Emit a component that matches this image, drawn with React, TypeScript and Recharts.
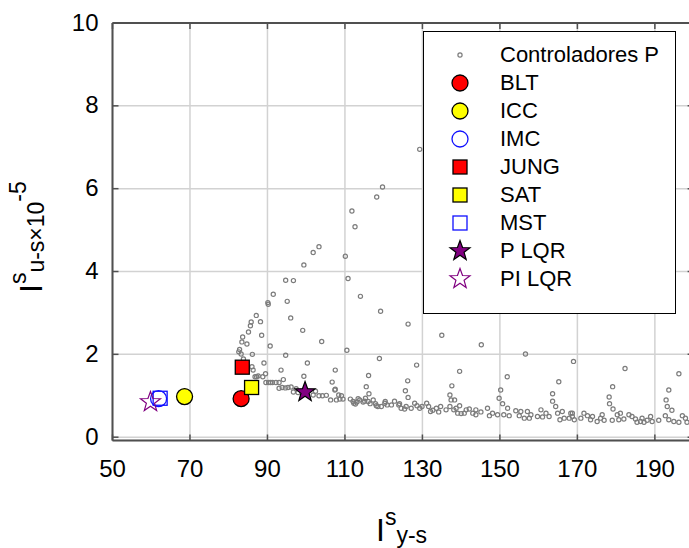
import React from "react";
import { CartesianGrid, Label, ReferenceLine, Scatter, ScatterChart, XAxis, YAxis } from "recharts";

// nuvem de controladores P (Isy-s, Isu-s x1e-5)
const controladoresP: [number, number][] = [
  [129.3, 6.95], [119.7, 6.04], [118.2, 5.8], [111.8, 5.46], [112.6, 5.08], [110.1, 4.37], [110.8, 3.83],
  [114.0, 3.4], [119.2, 3.04], [126.3, 2.73], [135.0, 2.46], [145.2, 2.23], [156.6, 2.01], [169.0, 1.83],
  [182.3, 1.66], [196.2, 1.53], [110.5, 2.1], [118.9, 1.9], [128.5, 1.74], [139.6, 1.59], [151.9, 1.46],
  [165.2, 1.34], [179.1, 1.22], [193.6, 1.14],
  [101.8, 4.46], [103.3, 4.6], [99.4, 4.16], [94.7, 3.79], [96.7, 3.78], [91.5, 3.45], [90.1, 3.25],
  [90.2, 3.21], [95.1, 3.28], [96.0, 2.88], [99.1, 2.58], [104.0, 2.31],
  [87.1, 2.94], [88.2, 2.79], [85.8, 2.78], [85.6, 2.69], [85.1, 2.54], [88.5, 2.46], [83.6, 2.42],
  [83.4, 2.3], [84.7, 2.25], [90.7, 2.2], [82.8, 2.12], [82.6, 2.06], [83.2, 2.01], [86.1, 2.0],
  [94.7, 1.98], [83.8, 1.89], [100.3, 1.79], [89.1, 1.79], [86.0, 1.7], [86.3, 1.62], [93.5, 1.62],
  [107.5, 1.62], [99.4, 1.47], [116.1, 1.49], [89.5, 1.53], [86.8, 1.46], [87.2, 1.46], [87.6, 1.48],
  [88.8, 1.46], [94.1, 1.39], [93.0, 1.32], [92.2, 1.32], [91.3, 1.32], [90.8, 1.32], [90.3, 1.32],
  [89.6, 1.32], [106.7, 1.33], [115.5, 1.22], [107.5, 1.16],
  [93.0, 1.18], [93.8, 1.2], [94.6, 1.19], [95.3, 1.2], [96.1, 1.21], [97.4, 1.17], [96.7, 1.09],
  [97.9, 1.08], [101.8, 1.02], [102.4, 1.11], [103.3, 1.0], [104.2, 1.0], [105.2, 1.01], [106.3, 0.9],
  [107.8, 0.9], [109.5, 0.92], [109.1, 1.0], [107.4, 1.14], [108.4, 1.02], [108.7, 0.92], [111.4, 0.92],
  [112.3, 0.82], [113.1, 0.85], [113.8, 0.9], [115.1, 0.87], [116.2, 1.05], [115.3, 0.94], [117.3, 0.9],
  [117.9, 0.81], [119.4, 0.74], [120.3, 0.82], [122.8, 0.87], [124.1, 0.81],
  [125.6, 1.12], [126.2, 1.36], [126.3, 0.96], [137.6, 1.24], [137.1, 1.02], [137.4, 0.9],
  [112.1, 0.86], [112.7, 0.8], [113.4, 0.93], [114.7, 0.85], [116.0, 0.86], [116.5, 0.81], [118.1, 0.76],
  [118.5, 0.74], [120.4, 0.86], [120.9, 0.78], [122.0, 0.78], [123.9, 0.78], [124.5, 0.7], [125.4, 0.68],
  [125.8, 0.74], [127.1, 0.7], [128.0, 0.82], [128.6, 0.76], [129.3, 0.7], [129.9, 0.74], [131.1, 0.82],
  [131.6, 0.74], [132.1, 0.62], [132.7, 0.65], [133.6, 0.7], [134.2, 0.61], [134.7, 0.74], [136.1, 0.66],
  [137.1, 0.74], [138.1, 0.66],
  [150.2, 1.14], [149.8, 0.94], [163.6, 1.05], [163.6, 0.87], [164.4, 0.74], [150.7, 0.81], [138.3, 0.9],
  [138.7, 0.7], [139.6, 0.76], [139.1, 0.58], [140.0, 0.57], [140.8, 0.58], [141.3, 0.66], [142.1, 0.68],
  [143.0, 0.58], [143.8, 0.66], [143.8, 0.54], [145.1, 0.61], [146.8, 0.7], [147.3, 0.52], [148.1, 0.58],
  [149.4, 0.54], [151.0, 0.54], [152.0, 0.7], [152.4, 0.52], [154.1, 0.64], [155.0, 0.52], [155.4, 0.62],
  [156.3, 0.46], [157.1, 0.62], [157.6, 0.46], [158.0, 0.54], [159.7, 0.5], [160.6, 0.66], [161.0, 0.49],
  [161.9, 0.58], [162.7, 0.5], [164.9, 0.58], [165.5, 0.42], [166.1, 0.62], [166.6, 0.46], [167.9, 0.46],
  [168.7, 0.58], [169.2, 0.42],
  [178.2, 0.97], [178.3, 0.81], [179.2, 0.68], [192.9, 0.9], [193.2, 0.74], [194.4, 0.65],
  [168.3, 0.58], [168.7, 0.5], [170.9, 0.46], [171.7, 0.58], [172.6, 0.52], [173.4, 0.42], [173.9, 0.5],
  [175.1, 0.38], [176.0, 0.46], [176.4, 0.54], [176.9, 0.41], [179.0, 0.41], [180.3, 0.54], [180.7, 0.42],
  [181.1, 0.58], [182.0, 0.44], [183.3, 0.54], [184.1, 0.5], [185.0, 0.44], [185.4, 0.36], [186.3, 0.38],
  [186.7, 0.46], [187.2, 0.36], [188.0, 0.41], [188.9, 0.5], [189.3, 0.38], [191.0, 0.41], [192.7, 0.52],
  [193.6, 0.42], [194.9, 0.38], [196.2, 0.36], [197.1, 0.52], [197.9, 0.46], [198.3, 0.36],
];

// métodos de sintonia
const metodos = ["BLT", "ICC", "IMC", "JUNG", "SAT", "MST", "P LQR", "PI LQR"];
const metodosX = [83.2, 68.6, 61.9, 83.5, 85.9, 62.3, 99.7, 59.8];
const metodosY = [0.93, 0.98, 0.93, 1.69, 1.2, 0.94, 1.09, 0.85];

const xTicks = [50, 70, 90, 110, 130, 150, 170, 190];
const yTicks = [0, 2, 4, 6, 8, 10];

const CHART_W = 700;
const CHART_H = 548;
const PLOT_LEFT = 112.5;
const PLOT_TOP = 23;
const PLOT_BOTTOM = 440.5;
const PLOT_RIGHT = 693.6;
const AXIS = "#505050";
const FONT = '"Liberation Sans", Arial, sans-serif';

type Kind = "dot" | "circle" | "square" | "star";
const estilos: Record<string, { kind: Kind; fill: string; stroke: string }> = {
  "Controladores P": { kind: "dot", fill: "none", stroke: "#7c7c7c" },
  BLT: { kind: "circle", fill: "#ff0000", stroke: "#000" },
  ICC: { kind: "circle", fill: "#ffff00", stroke: "#000" },
  IMC: { kind: "circle", fill: "none", stroke: "#1010ff" },
  JUNG: { kind: "square", fill: "#ff0000", stroke: "#000" },
  SAT: { kind: "square", fill: "#ffff00", stroke: "#000" },
  MST: { kind: "square", fill: "none", stroke: "#1010ff" },
  "P LQR": { kind: "star", fill: "#800080", stroke: "#000" },
  "PI LQR": { kind: "star", fill: "none", stroke: "#800080" },
};

function starPath(cx: number, cy: number, R: number, r: number) {
  let d = "";
  for (let i = 0; i < 10; i++) {
    const a = -Math.PI / 2 + (i * Math.PI) / 5;
    const rad = i % 2 === 0 ? R : r;
    d += `${i === 0 ? "M" : "L"}${(cx + rad * Math.cos(a)).toFixed(2)},${(cy + rad * Math.sin(a)).toFixed(2)}`;
  }
  return d + "Z";
}

function glyph(name: string, cx: number, cy: number) {
  const s = estilos[name];
  if (s.kind === "dot") return <circle cx={cx} cy={cy} r={2.1} fill="none" stroke={s.stroke} strokeWidth={1.2} />;
  if (s.kind === "circle") return <circle cx={cx} cy={cy} r={8} fill={s.fill} stroke={s.stroke} strokeWidth={1.3} />;
  if (s.kind === "square")
    return <rect x={cx - 7} y={cy - 7} width={14} height={14} fill={s.fill} stroke={s.stroke} strokeWidth={1.3} />;
  return <path d={starPath(cx, cy, 10.5, 4.3)} fill={s.fill} stroke={s.stroke} strokeWidth={1.2} strokeLinejoin="miter" />;
}

function XTick({ x, y, payload }: any) {
  return (
    <g>
      <line x1={x} y1={y} x2={x} y2={y - 6} stroke={AXIS} strokeWidth={1.5} />
      <line x1={x} y1={PLOT_TOP} x2={x} y2={PLOT_TOP + 6} stroke={AXIS} strokeWidth={1.5} />
      <text x={x} y={y + 28} textAnchor="middle" dominantBaseline="central" fontSize={24} fontFamily={FONT} fill="#000">
        {payload.value}
      </text>
    </g>
  );
}

function YTick({ x, y, payload }: any) {
  return (
    <g>
      <line x1={x} y1={y} x2={x + 6} y2={y} stroke={AXIS} strokeWidth={1.5} />
      <line x1={PLOT_RIGHT} y1={y} x2={PLOT_RIGHT - 6} y2={y} stroke={AXIS} strokeWidth={1.5} />
      <text x={x - 14} y={y - 1} textAnchor="end" dominantBaseline="central" fontSize={24} fontFamily={FONT} fill="#000">
        {payload.value}
      </text>
    </g>
  );
}

function XTitle() {
  return (
    <text x={376} y={541} fontFamily={FONT} fill="#000">
      <tspan fontSize={32}>I</tspan>
      <tspan fontSize={23} dy={-16}>s</tspan>
      <tspan fontSize={23} dy={18}>y-s</tspan>
    </text>
  );
}

function YTitle() {
  return (
    <text transform="translate(42, 293) rotate(-90)" fontFamily={FONT} fill="#000">
      <tspan fontSize={32}>I</tspan>
      <tspan fontSize={23} dy={-16}>s</tspan>
      <tspan fontSize={23} dy={18}>u-s×10</tspan>
      <tspan fontSize={23} dy={-18}>-5</tspan>
    </text>
  );
}

const pontos = controladoresP.map(([x, y]) => ({ x, y }));

export default function App() {
  return (
    <div style={{ position: "absolute", left: 0, top: 0, width: 689, height: 548, overflow: "hidden", background: "#fff" }}>
      <ScatterChart
        width={CHART_W}
        height={CHART_H}
        margin={{ top: PLOT_TOP, right: CHART_W - PLOT_RIGHT, bottom: 0, left: 0 }}
      >
        <CartesianGrid stroke="#d2d2d2" strokeWidth={1.5} />
        <XAxis
          type="number"
          dataKey="x"
          domain={[50, 200]}
          ticks={xTicks}
          height={CHART_H - PLOT_BOTTOM}
          tickSize={0}
          tickMargin={0}
          tick={XTick}
          axisLine={{ stroke: AXIS, strokeWidth: 2 }}
          allowDataOverflow
        >
          <Label content={() => <XTitle />} />
        </XAxis>
        <YAxis
          type="number"
          dataKey="y"
          domain={[-0.08, 10]}
          ticks={yTicks}
          width={PLOT_LEFT}
          tickSize={0}
          tickMargin={0}
          tick={YTick}
          axisLine={{ stroke: AXIS, strokeWidth: 2 }}
          allowDataOverflow
        >
          <Label content={() => <YTitle />} />
        </YAxis>
        <ReferenceLine y={10} stroke={AXIS} strokeWidth={2} />
        <ReferenceLine x={200} stroke={AXIS} strokeWidth={2} />
        <Scatter
          name="Controladores P"
          data={pontos}
          isAnimationActive={false}
          shape={(p: any) => glyph("Controladores P", p.cx, p.cy)}
        />
        {metodos.map((m, i) => (
          <Scatter
            key={m}
            name={m}
            data={[{ x: metodosX[i], y: metodosY[i] }]}
            isAnimationActive={false}
            shape={(p: any) => glyph(m, p.cx, p.cy)}
          />
        ))}
      </ScatterChart>
      <div
        style={{
          position: "absolute",
          left: 423,
          top: 31,
          width: 251,
          height: 272,
          border: "1.5px solid #000",
          background: "#fff",
          paddingTop: 9,
          boxSizing: "content-box",
          fontFamily: FONT,
          fontSize: 22,
        }}
      >
        {["Controladores P", ...metodos].map((m) => (
          <div key={m} style={{ display: "flex", alignItems: "center", height: 28 }}>
            <svg width={76} height={28} style={{ flex: "none" }}>
              {glyph(m, 36, 14)}
            </svg>
            <span style={{ lineHeight: "28px" }}>{m}</span>
          </div>
        ))}
      </div>
    </div>
  );
}
